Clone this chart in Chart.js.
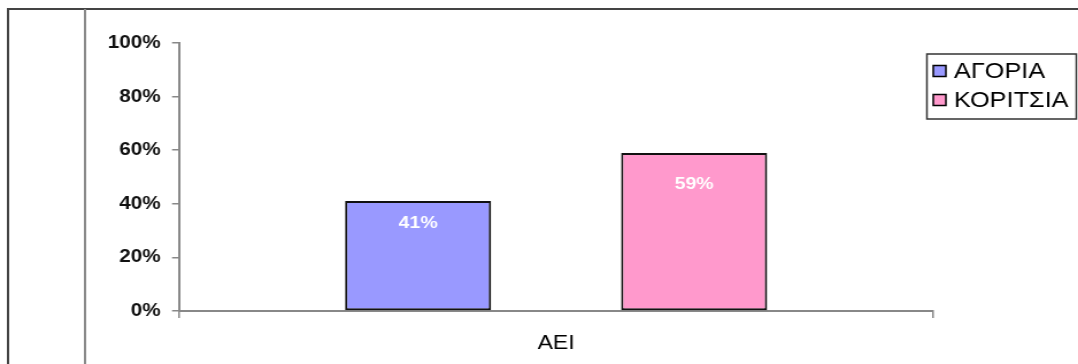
<!DOCTYPE html>
<html>
<head>
<meta charset="utf-8">
<script src="https://cdn.jsdelivr.net/npm/chart.js@4/dist/chart.umd.min.js"></script>
<style>
  html, body { margin: 0; padding: 0; background: #fff; overflow: hidden; }
  /* the chart is laid out on a narrower canvas and widened to the page */
  #wrap { position: relative; width: 938px; height: 364px; transform: scaleX(1.1493); transform-origin: 0 0; }
</style>
</head>
<body>
<div id="wrap"><canvas id="aeiChart"></canvas></div>
<script>
// AEI - share of boys and girls
const categories = ['ΑΕΙ'];
const seriesLabels = ['ΑΓΟΡΙΑ', 'ΚΟΡΙΤΣΙΑ'];
const boysValues = [41];
const girlsValues = [59];
const yTicks = [0, 20, 40, 60, 80, 100];

const seriesColors = ['#9999FF', '#FF99CC'];
const FONT = '"Liberation Sans", Arial, sans-serif';

// page frame: top rule, left rule and the inner divider
const framePlugin = {
    id: 'frame',
    beforeDraw(chart) {
        const ctx = chart.ctx;
        ctx.save();
        ctx.fillStyle = '#fff';
        ctx.fillRect(0, 0, chart.width, chart.height);
        ctx.lineWidth = 2;
        ctx.strokeStyle = '#444';
        ctx.beginPath();
        ctx.moveTo(7, chart.height); ctx.lineTo(7, 9); ctx.lineTo(chart.width, 9);
        ctx.stroke();
        ctx.strokeStyle = '#8a8a8a';
        ctx.beginPath();
        ctx.moveTo(74, 9); ctx.lineTo(74, chart.height);
        ctx.stroke();
        ctx.restore();
    }
};

// white value labels inside the bars
const valueLabels = {
    id: 'valueLabels',
    afterDatasetsDraw(chart) {
        const ctx = chart.ctx;
        const yScale = chart.scales.y;
        ctx.save();
        ctx.font = 'bold 17px ' + FONT;
        ctx.fillStyle = '#fff';
        ctx.textAlign = 'center';
        ctx.textBaseline = 'middle';
        chart.data.datasets.forEach((ds, i) => {
            chart.getDatasetMeta(i).data.forEach((bar, j) => {
                const v = ds.data[j];
                ctx.fillText(v + '%', bar.x, yScale.getPixelForValue(v * 0.8));
            });
        });
        ctx.restore();
    }
};

// boxed legend at the top right
const boxLegend = {
    id: 'boxLegend',
    afterDraw(chart) {
        const ctx = chart.ctx;
        const left = 806.5, top = 54, w = 130, h = 65;
        ctx.save();
        ctx.lineWidth = 1.5;
        ctx.strokeStyle = '#333';
        ctx.strokeRect(left, top, w, h);
        ctx.font = '22px ' + FONT;
        ctx.textBaseline = 'middle';
        ctx.textAlign = 'left';
        chart.data.datasets.forEach((ds, i) => {
            const cy = 71 + i * 29;
            ctx.fillStyle = ds.backgroundColor;
            ctx.fillRect(812, cy - 5.5, 11, 11);
            ctx.strokeStyle = '#000';
            ctx.lineWidth = 1.5;
            ctx.strokeRect(812, cy - 5.5, 11, 11);
            ctx.fillStyle = '#000';
            ctx.fillText(ds.label, 830, cy + 1);
        });
        ctx.restore();
    }
};

const barDefaults = {
    borderColor: '#111',
    borderWidth: 2,
    borderSkipped: false,
    categoryPercentage: 0.732,
    barPercentage: 0.529
};

new Chart(document.getElementById('aeiChart'), {
    type: 'bar',
    data: {
        labels: categories,
        datasets: [
            Object.assign({ label: seriesLabels[0], data: boysValues, backgroundColor: seriesColors[0] }, barDefaults),
            Object.assign({ label: seriesLabels[1], data: girlsValues, backgroundColor: seriesColors[1] }, barDefaults)
        ]
    },
    options: {
        responsive: true,
        maintainAspectRatio: false,
        animation: false,
        layout: { padding: { top: 43, right: 126, left: 0, bottom: 0 } },
        plugins: { legend: { display: false }, tooltip: { enabled: false } },
        scales: {
            x: {
                grid: { display: true, drawOnChartArea: false, drawTicks: true, tickLength: 7, color: '#888', lineWidth: 1.5 },
                border: { display: true, color: '#888', width: 2 },
                ticks: { color: '#000', font: { family: FONT, size: 20 }, padding: 13 },
                afterFit(scale) { scale.height = 53; }
            },
            y: {
                min: yTicks[0],
                max: yTicks[yTicks.length - 1],
                afterBuildTicks(scale) { scale.ticks = yTicks.map(v => ({ value: v })); },
                grid: { display: true, drawOnChartArea: false, drawTicks: true, tickLength: 6, color: '#888', lineWidth: 1.5 },
                border: { display: true, color: '#888', width: 2 },
                ticks: {
                    color: '#111',
                    font: { family: FONT, size: 18, weight: 'bold' },
                    padding: 10,
                    callback: v => v + '%'
                },
                afterFit(scale) { scale.width = 155.7; }
            }
        }
    },
    plugins: [framePlugin, valueLabels, boxLegend]
});
</script>
</body>
</html>
